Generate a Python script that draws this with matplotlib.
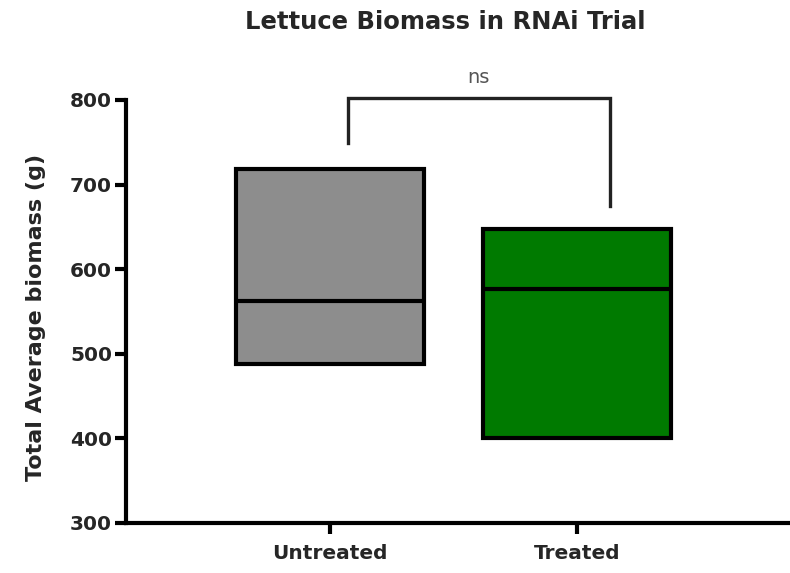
import matplotlib
matplotlib.use("Agg")
import matplotlib.pyplot as plt

matplotlib.rcParams["font.family"] = ["DejaVu Sans"]

# Box summary per group (floating box with median line)
groups = ["Untreated", "Treated"]
q_low = [488, 400]
q_high = [719, 647]
medians = [562, 577]
fill_colors = ["#8d8d8d", "#007a00"]

y_ticks = [300, 400, 500, 600, 700, 800]
sig_label = "ns"

TEXT = "#262626"

fig = plt.figure(figsize=(7.9, 5.73), dpi=100)
ax = fig.add_axes([0.1595, 0.0873, 0.8405, 0.7382])

pos = [1, 2]
width = 0.76
heights = [h - l for l, h in zip(q_low, q_high)]
ax.bar(pos, heights, bottom=q_low, width=width, color=fill_colors,
       edgecolor="black", linewidth=3, zorder=2)
for p, m in zip(pos, medians):
    ax.hlines(m, p - width / 2, p + width / 2, color="black", linewidth=3, zorder=3)

# significance bracket
ax.plot([1.07, 1.07, 2.13, 2.13], [749, 802, 802, 675], color="#222222",
        linewidth=2.4, clip_on=False, solid_joinstyle="miter", zorder=3)
ax.text(1.6, 815, sig_label, ha="center", va="bottom", fontsize=14,
        color="#555555", clip_on=False)

ax.set_xlim(0.174, 2.86)
ax.set_ylim(300, 800)
ax.set_yticks(y_ticks)
ax.set_xticks(pos)
ax.set_xticklabels(groups)

for side in ["top", "right"]:
    ax.spines[side].set_visible(False)
for side in ["left", "bottom"]:
    ax.spines[side].set_linewidth(3)
    ax.spines[side].set_capstyle("projecting")

ax.tick_params(axis="both", direction="out", length=8, width=3,
               labelsize=14.5, labelcolor=TEXT, pad=2)
ax.tick_params(axis="x", pad=7)
for lbl in ax.get_xticklabels() + ax.get_yticklabels():
    lbl.set_fontweight("bold")

ax.set_ylabel("Total Average biomass (g)", fontsize=16, fontweight="bold",
              color=TEXT)
ax.yaxis.set_label_coords(-0.121, 0.485)
fig.text(0.563, 0.962, "Lettuce Biomass in RNAi Trial", ha="center", va="center",
         fontsize=17.5, fontweight="bold", color=TEXT)

fig.savefig("out.png", dpi=100)
